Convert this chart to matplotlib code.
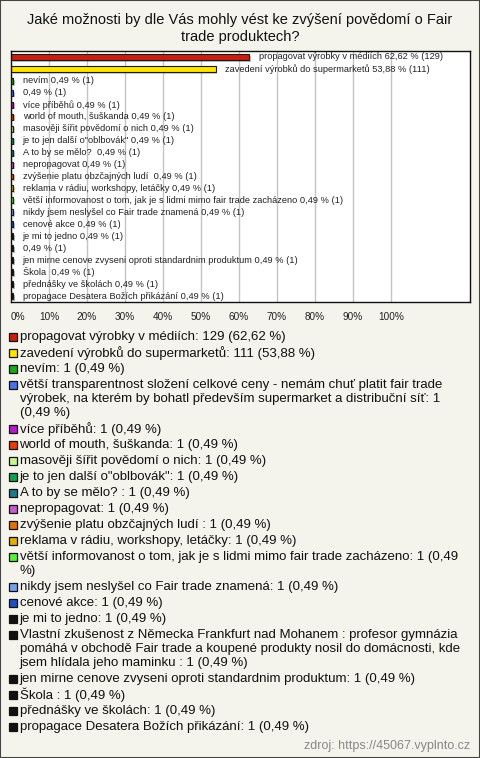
import matplotlib
matplotlib.use('Agg')
import matplotlib.pyplot as plt
from matplotlib import patheffects
from matplotlib.patches import Rectangle
from matplotlib.font_manager import FontProperties

titulek = "Jaké možnosti by dle Vás mohly vést ke zvýšení povědomí o Fair\ntrade produktech?"
zdroj = "zdroj: https://45067.vyplnto.cz"
respondentu = 206

moznosti = [
    "propagovat výrobky v médiích",
    "zavedení výrobků do supermarketů",
    "nevím",
    "větší transparentnost složení celkové ceny - nemám chuť platit fair trade výrobek, na kterém by bohatl především supermarket a distribuční síť",
    "více příběhů",
    "world of mouth, šuškanda",
    "masověji šířit povědomí o nich",
    "je to jen další o\"oblbovák\"",
    "A to by se mělo? ",
    "nepropagovat",
    "zvýšenie platu obzčajných ludí ",
    "reklama v rádiu, workshopy, letáčky",
    "větší informovanost o tom, jak je s lidmi mimo fair trade zacházeno",
    "nikdy jsem neslyšel co Fair trade znamená",
    "cenové akce",
    "je mi to jedno",
    "Vlastní zkušenost z Německa Frankfurt nad Mohanem : profesor gymnázia pomáhá v obchodě Fair trade a koupené produkty nosil do domácnosti, kde jsem hlídala jeho maminku ",
    "jen mirne cenove zvyseni oproti standardnim produktum",
    "Škola ",
    "přednášky ve školách",
    "propagace Desatera Božích přikázání",
]
pocty = [129, 111, 1, 1, 1, 1, 1, 1, 1, 1, 1, 1, 1, 1, 1, 1, 1, 1, 1, 1, 1]
barvy = [
    "#c8200e", "#ffe400", "#1aa81a", "#4a72e8", "#b41ec8", "#e0400c", "#c8f494",
    "#12a052", "#1e7a86", "#c060c8", "#e0720e", "#e0b00a", "#58f03a", "#78a0e8",
    "#2050c0", "#111111", "#111111", "#111111", "#111111", "#111111", "#111111",
]
osa_popisky = ["0%", "10%", "20%", "30%", "40%", "50%", "60%", "70%", "80%", "90%", "100%"]

W, H = 480, 758
pozadi = "#f4f3ec"


def fmt(v):
    return f"{v:.2f}".replace('.', ',')


def fy(px):
    return 1 - px / H


def zalomit(text, fp, renderer, max_px):
    slova = text.split(' ')
    radky = []
    akt = ''
    for s in slova:
        zkus = s if akt == '' else akt + ' ' + s
        w, _, _ = renderer.get_text_width_height_descent(zkus, fp, ismath=False)
        if w <= max_px or akt == '':
            akt = zkus
        else:
            radky.append(akt)
            akt = s
    radky.append(akt)
    return radky


procenta = [p / respondentu * 100 for p in pocty]

plt.rcParams['font.family'] = ['Liberation Sans', 'DejaVu Sans']
fig = plt.figure(figsize=(W / 100, H / 100), dpi=100, facecolor=pozadi)

fig.text(0.5, fy(28.5), titulek, ha='center', va='center', fontsize=10.5,
         linespacing=1.2, color='#111111')

ax = fig.add_axes([11 / W, fy(302), 459 / W, 251 / H])
ax.set_facecolor('white')
y = list(range(len(moznosti)))
bary = ax.barh(y, procenta, height=0.5, color=barvy, edgecolor='#1a1a1a', linewidth=0.8)
for b in bary:
    b.set_path_effects([patheffects.SimplePatchShadow(offset=(1.2, -1.2), rho=0.45),
                        patheffects.Normal()])

for i, (m, v, n) in enumerate(zip(moznosti, procenta, pocty)):
    jmeno = m if len(m) < 100 else ''
    txt = f"{jmeno} {fmt(v)} % ({n})".lstrip()
    ax.annotate(txt, xy=(v, i), xytext=(7, 0), textcoords='offset points',
                va='center', ha='left', fontsize=6.65, color='#222222')

ax.set_xlim(0, 459 / 3.8)
ax.set_ylim(len(moznosti) - 0.5, -0.5)
ax.set_xticks(range(0, 101, 10))
ax.set_xticklabels(osa_popisky, fontsize=7.2, color='#222222')
ax.get_xticklabels()[0].set_horizontalalignment('left')
ax.set_yticks([])
ax.tick_params(axis='x', length=0, pad=7)
ax.grid(axis='x', color='#c4c4c4', linewidth=1)
ax.set_axisbelow(True)
for s in ax.spines.values():
    s.set_color('#111111')
    s.set_linewidth(1)

# legenda pod grafem
renderer = fig.canvas.get_renderer()
fp = FontProperties(family=['Liberation Sans', 'DejaVu Sans'], size=9.55)
ypx = 337
for m, v, n, c in zip(moznosti, procenta, pocty, barvy):
    radky = zalomit(f"{m}: {n} ({fmt(v)} %)", fp, renderer, 452)
    fig.add_artist(Rectangle((8.5 / W, fy(ypx + 4)), 8 / W, 8 / H, transform=fig.transFigure,
                             facecolor=c, edgecolor='#111111', linewidth=0.9))
    for k, r in enumerate(radky):
        fig.text(19.5 / W, fy(ypx + 14 * k), r, fontproperties=fp, ha='left',
                 va='center', color='#111111')
    ypx += 14 * (len(radky) - 1) + 16

fig.text(470 / W, fy(746), zdroj, ha='right', va='center', fontsize=9, color='#888888')

fig.add_artist(Rectangle((0, 0), 1, 1, transform=fig.transFigure, fill=False,
                         edgecolor='#444444', linewidth=1.5))

fig.savefig('out.png', dpi=100, facecolor=pozadi)
